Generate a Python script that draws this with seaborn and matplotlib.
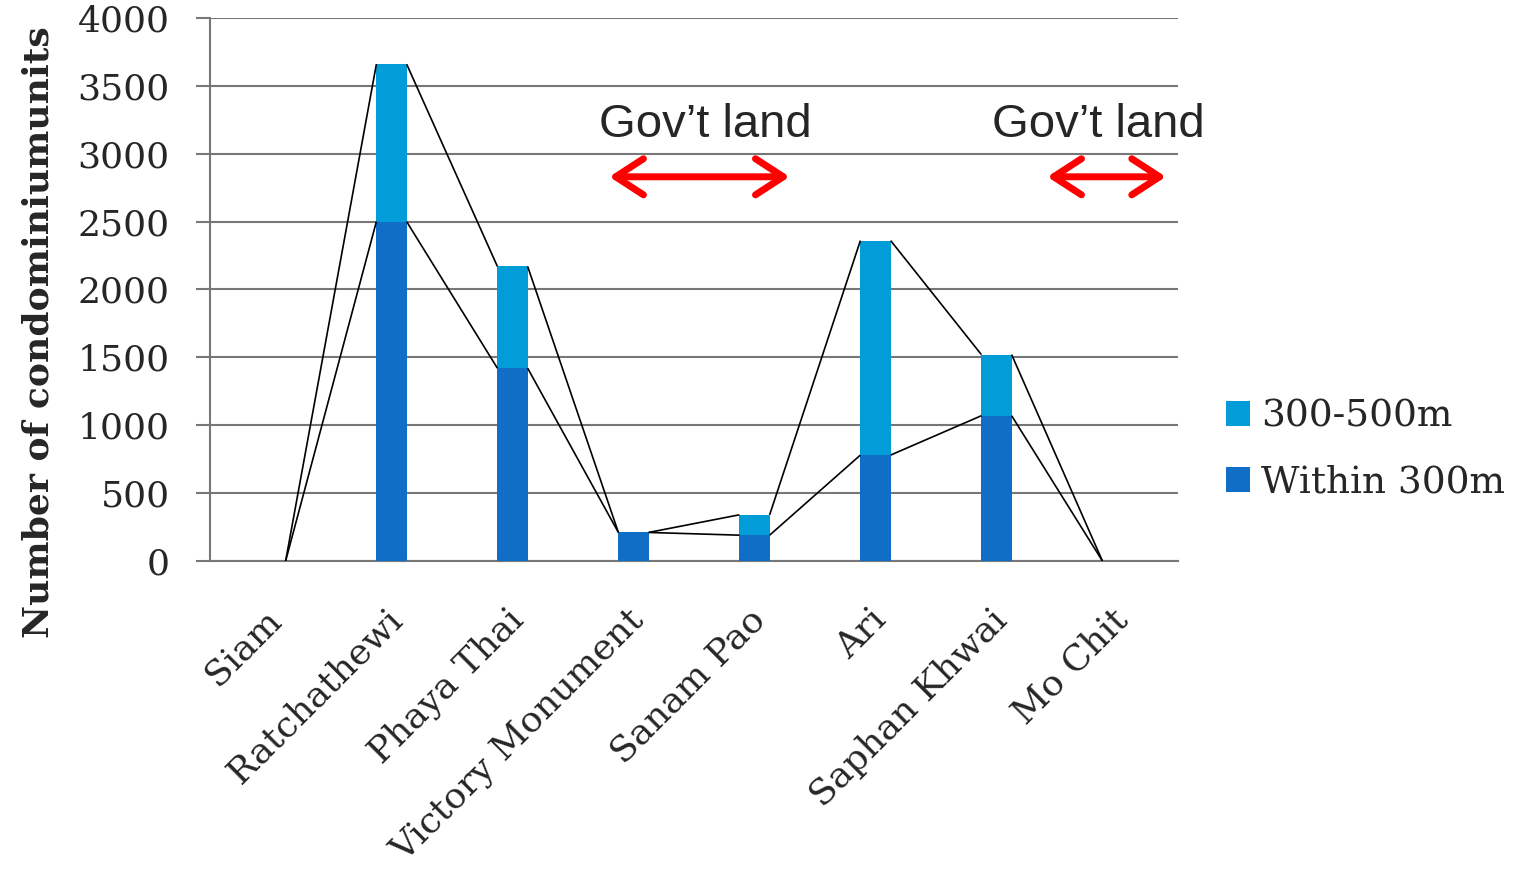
import matplotlib
matplotlib.use("Agg")
import matplotlib.pyplot as plt
import matplotlib.transforms as mtransforms
import numpy as np
import pandas as pd
import seaborn as sns

# Condominium units near each BTS station, by walking distance
stations = ["Siam", "Ratchathewi", "Phaya Thai", "Victory Monument",
            "Sanam Pao", "Ari", "Saphan Khwai", "Mo Chit"]
within_300m = [0, 2500, 1420, 210, 190, 780, 1070, 0]
ring_300_500m = [0, 1160, 750, 0, 150, 1580, 450, 0]
y_ticks = [0, 500, 1000, 1500, 2000, 2500, 3000, 3500, 4000]

# Government-owned stretches along the line (category coordinates)
gov_spans = [(2.80, 4.29), (6.42, 7.40)]
gov_label_x = [3.595, 6.84]

DARK = "#106EC6"
LIGHT = "#029DD8"
GRID = "#777777"

sns.set_style("white")
plt.rcParams["font.family"] = ["DejaVu Serif"]

df = pd.DataFrame({
    "station": stations,
    "within": within_300m,
    "ring": ring_300_500m,
})
df["total"] = df["within"] + df["ring"]

fig = plt.figure(figsize=(15.13, 8.72), dpi=100, facecolor="white")
ax = fig.add_axes([0.1388, 0.3567, 0.6398, 0.6227])
ax.set_facecolor("white")

# Stacked columns: full height in light blue, inner band overdrawn in dark blue
sns.barplot(data=df, x="station", y="total", color=LIGHT, saturation=1,
            width=0.25, linewidth=0, label="300-500m", ax=ax, zorder=2)
sns.barplot(data=df, x="station", y="within", color=DARK, saturation=1,
            width=0.25, linewidth=0, label="Within 300m", ax=ax, zorder=3)

n = len(stations)
total_bars = ax.patches[:n]
inner_bars = ax.patches[n:2 * n]

# Series lines joining the tops of neighbouring columns
for bars in (total_bars, inner_bars):
    for a, b in zip(bars[:-1], bars[1:]):
        x0 = a.get_x() + a.get_width()
        y0 = a.get_y() + a.get_height()
        x1 = b.get_x()
        y1 = b.get_y() + b.get_height()
        ax.plot([x0, x1], [y0, y1], color="black", lw=1.2, zorder=4,
                solid_capstyle="butt")

ax.set_xlim(-0.5, n - 0.5)
ax.set_ylim(0, 4000)
ax.set_yticks(y_ticks)
ax.set_yticklabels([str(v) for v in y_ticks], fontsize=26)
ax.grid(axis="y", color=GRID, lw=1.5, zorder=0)
ax.set_axisbelow(True)

for side in ("top", "right"):
    ax.spines[side].set_visible(False)
for side in ("left", "bottom"):
    ax.spines[side].set_color(GRID)
    ax.spines[side].set_linewidth(1.5)

ax.tick_params(axis="y", length=10, width=1.5, color=GRID, pad=19, left=True)
ax.tick_params(axis="x", length=0, pad=22)
ax.set_xlabel("")
ax.set_xticks(range(n))
ax.set_xticklabels(stations, rotation=45, ha="right", va="top",
                   rotation_mode="anchor", fontsize=26)
# nudge the slanted station names down and slightly left
shift = mtransforms.ScaledTranslation(-7 / 100, -11 / 100, fig.dpi_scale_trans)
for lbl in ax.get_xticklabels():
    lbl.set_transform(lbl.get_transform() + shift)

ax.set_ylabel("Number of condominiumunits", fontsize=26, fontweight="bold")
ax.yaxis.set_label_coords(-0.160, 0.422)

# Government land markers
for (x0, x1), tx in zip(gov_spans, gov_label_x):
    ax.annotate("", xy=(x1, 2830), xytext=(x0, 2830),
                arrowprops=dict(arrowstyle="<->,head_length=1.0,head_width=0.65",
                                color="red", lw=5, mutation_scale=20,
                                shrinkA=0, shrinkB=0, capstyle="round",
                                joinstyle="round"),
                annotation_clip=False, zorder=5)
    ax.text(tx, 3212, "Gov\u2019t land", ha="center", va="center",
            fontsize=34, family=["Liberation Sans", "DejaVu Sans"], zorder=5)

leg = ax.legend(loc="center left", bbox_to_anchor=(1.0495, 0.205),
                frameon=False, fontsize=27, handlelength=0.64,
                handleheight=0.64, handletextpad=0.3, labelspacing=0.8,
                borderpad=0, borderaxespad=0)

fig.savefig("out.png", dpi=100, facecolor="white")
